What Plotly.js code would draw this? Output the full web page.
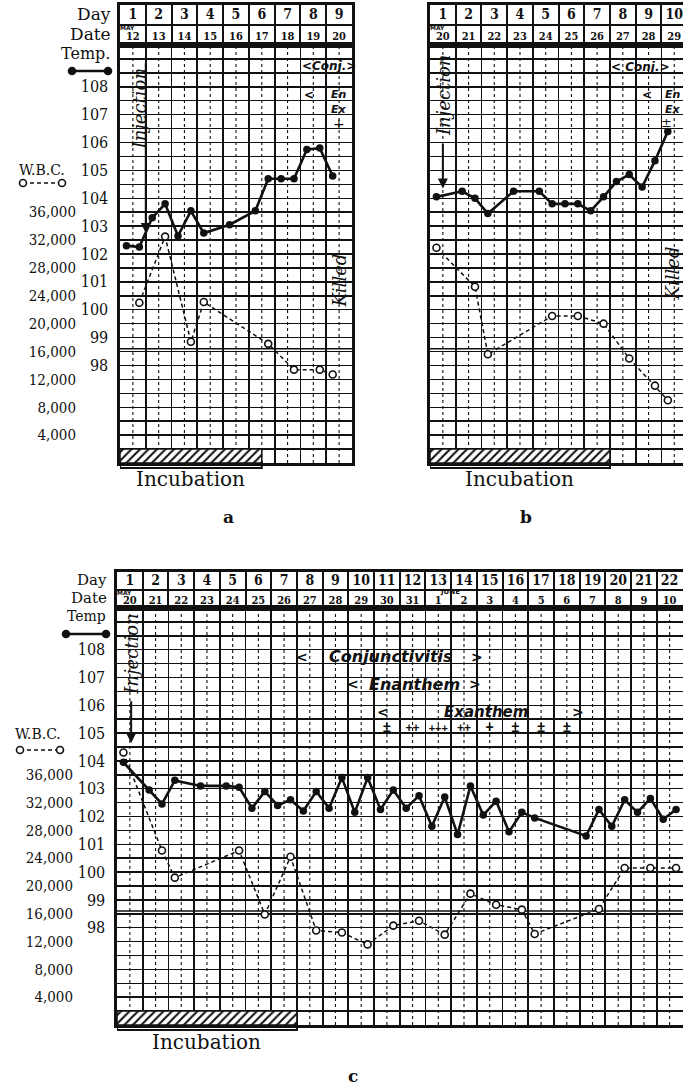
<!DOCTYPE html>
<html><head><meta charset="utf-8">
<script src="https://cdn.plot.ly/plotly-3.0.1.min.js"></script>
<style>html,body{margin:0;padding:0;background:#fff;}#chart{width:683px;height:1087px;}</style>
</head><body><div id="chart"></div>
<script>
// ---------------- DATA ----------------
// half-day reading slots: slot 0 = day 1 AM, slot 1 = day 1 PM, slot 2 = day 2 AM ...
const aDays = [1,2,3,4,5,6,7,8,9];
const aDates = ['12','13','14','15','16','17','18','19','20'];
const aTempSlots = [0,1,2,3,4,5,6,8,10,11,12,13,14,15,16];
const aTemp = [102.3,102.25,103.3,103.8,102.65,103.55,102.75,103.05,103.55,104.7,104.7,104.7,105.75,105.8,104.8];
const aWbcSlots = [1,3,5,6,11,13,15,16];
const aWbc = [23000,32500,17400,23100,17100,13400,13400,12700];
const aIncubation = [0.5, 6.0];

const bDays = [1,2,3,4,5,6,7,8,9,10];
const bDates = ['20','21','22','23','24','25','26','27','28','29'];
const bTempSlots = [0,2,3,4,6,8,9,10,11,12,13,14,15,16,17,18];
const bTemp = [104.05,104.25,104.0,103.45,104.25,104.25,103.8,103.8,103.8,103.55,104.05,104.6,104.85,104.4,105.35,106.4];
const bWbcSlots = [0,3,4,9,11,13,15,17,18];
const bWbc = [30900,25300,15600,21100,21100,20000,15000,11100,9000];
const bIncubation = [0.5, 7.5];

const cDays = [1,2,3,4,5,6,7,8,9,10,11,12,13,14,15,16,17,18,19,20,21,22];
const cDates = ['20','21','22','23','24','25','26','27','28','29','30','31','1','2','3','4','5','6','7','8','9','10'];
const cTempSlots = [0,2,3,4,6,8,9,10,11,12,13,14,15,16,17,18,19,20,21,22,23,24,25,26,27,28,29,30,31,32,36,37,38,39,40,41,42,43];
const cTemp = [103.95,102.95,102.45,103.3,103.1,103.1,103.05,102.3,102.9,102.4,102.6,102.2,102.9,102.3,103.4,102.15,103.4,102.25,102.95,102.3,102.75,101.65,102.7,101.35,103.1,102.05,102.55,101.45,102.15,101.95,101.3,102.25,101.65,102.6,102.15,102.65,101.9,102.25];
const cWbcSlots = [0,3,4,9,11,13,15,17,19,21,23,25,27,29,31,32,37,39,41,43];
const cWbc = [39200,25100,21200,25100,15900,24200,13600,13300,11600,14300,15000,13000,18900,17300,16600,13100,16700,22600,22600,22600];
const cIncubation = [0.5, 7.5];
const cSymbolDays = [11,12,13,14,15,16,17,18];
const cSymbols = ['±','++','+++','++','+','±','±','±'];

const tempTickVals = [98,99,100,101,102,103,104,105,106,107,108];
const wbcTickVals = [4000,8000,12000,16000,20000,24000,28000,32000,36000];
const wbcTickText = ['4,000','8,000','12,000','16,000','20,000','24,000','28,000','32,000','36,000'];

// ---------------- DRAWING ----------------
const W = 683, H = 1087, INK = '#111';
const SERIF = "'DejaVu Serif', serif";
const SERIFC = "'DejaVu Serif Condensed', 'DejaVu Serif', serif";
const SANS = "'DejaVu Sans', sans-serif";
const PX = x => x / W, PY = y => 1 - y / H;
const slotX = k => 0.75 + 0.5 * k;
const axKey = id => id[0] + 'axis' + id.slice(1);

const panels = [
  {days:aDays, dates:aDates, ts:aTempSlots, t:aTemp, ws:aWbcSlots, w:aWbc, inc:aIncubation,
   px:[120,352], main:[45,463], head:[5,45], xr:[0.5,9.5], labels:true, wbcPos:76, incY:479,
   ids:{x:'x', y:'y', w:'y2', hx:'x2', hy:'y3'}},
  {days:bDays, dates:bDates, ts:bTempSlots, t:bTemp, ws:bWbcSlots, w:bWbc, inc:bIncubation,
   px:[430,683], main:[45,463], head:[5,45], xr:[0.5,10.34], labels:false, wbcPos:76, incY:479,
   ids:{x:'x3', y:'y4', w:'y5', hx:'x4', hy:'y6'}},
  {days:cDays, dates:cDates, ts:cTempSlots, t:cTemp, ws:cWbcSlots, w:cWbc, inc:cIncubation,
   px:[117,683], main:[608,1025], head:[572,608], xr:[0.5,22.52], labels:true, wbcPos:73, incY:1042,
   ids:{x:'x5', y:'y7', w:'y8', hx:'x6', hy:'y9'}}
];

const layout = {width:W, height:H, margin:{l:0,r:0,t:0,b:0}, paper_bgcolor:'#fff', plot_bgcolor:'#fff',
  showlegend:false, shapes:[], annotations:[], font:{family:SERIF, color:INK}};
const traces = [];
function ann(o){ layout.annotations.push(Object.assign({showarrow:false, xanchor:'center', yanchor:'middle', font:{family:SERIF, size:14, color:INK}}, o)); }

const halfSteps = [];
for (let v = 94.5; v <= 109.5 + 1e-9; v += 0.5) halfSteps.push(+v.toFixed(1));

panels.forEach(p => {
  const id = p.ids;
  const xdom = [PX(p.px[0]), Math.min(1, PX(p.px[1]))];
  const bounds = []; for (let v = 0.5; v <= Math.ceil(p.xr[1]) + 0.5; v++) bounds.push(v);
  const common = {showline:true, mirror:true, linecolor:INK, linewidth:2.6, zeroline:false, fixedrange:true, ticks:''};
  layout[axKey(id.x)] = Object.assign({}, common, {domain:xdom, range:p.xr, anchor:id.y,
    tickmode:'array', tickvals:bounds, showticklabels:false, showgrid:true, gridcolor:INK, gridwidth:1.8});
  layout[axKey(id.y)] = Object.assign({}, common, {domain:[PY(p.main[1]), PY(p.main[0])], range:[94.5,109.5], anchor:id.x,
    tickmode:'array', tickvals:halfSteps, ticktext:halfSteps.map(v => tempTickVals.includes(v) ? String(v) : ''),
    showticklabels:p.labels, ticklabelstandoff:6, tickfont:{family:SERIFC, size:16, color:INK},
    showgrid:true, gridcolor:INK, gridwidth:1.5});
  layout[axKey(id.w)] = {overlaying:id.y, anchor:'free', position:PX(p.wbcPos), side:'left', range:[0,60000],
    tickmode:'array', tickvals:wbcTickVals, ticktext:wbcTickText, ticks:'', showgrid:false, showline:false,
    zeroline:false, fixedrange:true, visible:p.labels, tickfont:{family:SERIFC, size:15, color:INK}};
  layout[axKey(id.hx)] = Object.assign({}, common, {domain:xdom, range:p.xr, anchor:id.hy,
    tickmode:'array', tickvals:bounds, showticklabels:false, showgrid:true, gridcolor:INK, gridwidth:2});
  layout[axKey(id.hy)] = Object.assign({}, common, {domain:[PY(p.head[1]), PY(p.head[0])], range:[0,2], anchor:id.hx,
    tickmode:'array', tickvals:[0,1,2], showticklabels:false, showgrid:true, gridcolor:INK, gridwidth:2});

  // dotted mid-day lines (AM | PM divider)
  p.days.forEach(d => layout.shapes.push({type:'line', xref:id.x, yref:id.y, x0:d, x1:d, y0:94.5, y1:109.5,
    layer:'below', line:{color:INK, width:1.1, dash:'dot'}}));
  // normal line
  layout.shapes.push({type:'line', xref:id.x, yref:id.y, x0:p.xr[0], x1:p.xr[1], y0:98.6, y1:98.6, layer:'below', line:{color:INK, width:1.5}});

  // incubation hatched row
  traces.push({type:'bar', x:[(p.inc[0]+p.inc[1])/2], y:[0.5], base:[94.5], width:[p.inc[1]-p.inc[0]],
    xaxis:id.x, yaxis:id.y, hoverinfo:'skip',
    marker:{color:'#fff', line:{color:INK, width:1.5}, pattern:{shape:'/', fgcolor:INK, bgcolor:'#fff', size:6, solidity:0.35}}});
  // temperature
  traces.push({type:'scatter', mode:'lines+markers', x:p.ts.map(slotX), y:p.t, xaxis:id.x, yaxis:id.y,
    line:{color:INK, width:2.6}, marker:{size:7.5, color:INK}, hoverinfo:'skip'});
  // WBC
  traces.push({type:'scatter', mode:'lines+markers', x:p.ws.map(slotX), y:p.w, xaxis:id.x, yaxis:id.w,
    line:{color:INK, width:1.5, dash:'4px,3px'}, marker:{symbol:'circle', size:7, color:'#fff', line:{color:INK, width:1.6}},
    hoverinfo:'skip', cliponaxis:false});
  // header texts
  traces.push({type:'scatter', mode:'text', x:p.days, y:p.days.map(() => 1.5), text:p.days.map(String),
    xaxis:id.hx, yaxis:id.hy, textfont:{family:SERIFC, size:14, color:INK, weight:'bold'}, hoverinfo:'skip', cliponaxis:false});
  traces.push({type:'scatter', mode:'text', x:p.days, y:p.days.map(() => 0.38), text:p.dates,
    xaxis:id.hx, yaxis:id.hy, textfont:{family:SERIFC, size:11, color:INK, weight:'bold'}, hoverinfo:'skip', cliponaxis:false});
  ann({xref:id.hx, yref:id.hy, x:0.8, y:0.86, text:'MAY', font:{family:SANS, size:6, color:INK, weight:'bold'}});

  // incubation bracket
  const yb0 = PY(p.main[1]-2), yb1 = PY(p.main[1]+5);
  layout.shapes.push({type:'path', xref:id.x, yref:'paper',
    path:`M ${p.inc[0]},${yb0} L ${p.inc[0]},${yb1} L ${p.inc[1]},${yb1} L ${p.inc[1]},${yb0}`, line:{color:INK, width:2}});
  ann({xref:id.x, yref:'paper', x:(p.inc[0]+p.inc[1])/2, y:PY(p.incY), text:'Incubation', font:{family:SERIF, size:20, color:INK}});
});

// ---- left-side titles & legend keys ----
function legendKey(x0, x1, y, filled){
  layout.shapes.push({type:'line', xref:'paper', yref:'paper', x0:PX(x0), x1:PX(x1), y0:PY(y), y1:PY(y),
    line:{color:INK, width:filled ? 2.5 : 1.6, dash:filled ? 'solid' : '4px,3px'}});
  [x0, x1].forEach(cx => layout.shapes.push({type:'circle', xref:'paper', yref:'paper',
    x0:PX(cx-3.5), x1:PX(cx+3.5), y0:PY(y+3.5), y1:PY(y-3.5),
    fillcolor:filled ? INK : '#fff', line:{color:INK, width:1.6}}));
}
[[113,14,34,53,71,72,108,42,170,183,23,62,'Temp.',17],[109,580,598,616,634,66,106,38,734,750,20,60,'Temp',15]].forEach(s => {
  const [xr, yDay, yDate, yTemp, yTK, tk0, tk1, xw, yW, yWK, wk0, wk1, tTxt, fs] = s;
  ann({xref:'paper', yref:'paper', x:PX(xr), y:PY(yDay), xanchor:'right', text:'Day', font:{family:SERIF, size:fs, color:INK}});
  ann({xref:'paper', yref:'paper', x:PX(xr), y:PY(yDate), xanchor:'right', text:'Date', font:{family:SERIF, size:fs, color:INK}});
  ann({xref:'paper', yref:'paper', x:PX(xr-1), y:PY(yTemp), xanchor:'right', text:tTxt, font:{family:SERIF, size:fs-1, color:INK}});
  legendKey(tk0, tk1, yTK, true);
  ann({xref:'paper', yref:'paper', x:PX(xw), y:PY(yW), text:'W.B.C.', font:{family:SERIF, size:14, color:INK}});
  legendKey(wk0, wk1, yWK, false);
});

// ---- panel a notes ----
const IT = (size) => ({family:SERIF, size:size, color:INK, style:'italic'});
const BI = (size) => ({family:SANS, size:size, color:INK, style:'italic', weight:'bold'});
ann({xref:'x', yref:'y', x:1.25, y:107.2, text:'Injection', textangle:-90, font:IT(18)});
ann({xref:'x', yref:'y', x:1.5, y:102.75, ax:1.5, ay:108.9, axref:'x', ayref:'y', text:'', showarrow:true, arrowhead:2, arrowsize:1, arrowwidth:2, arrowcolor:INK});
ann({xref:'x', yref:'y', x:8.6, y:108.75, text:'&lt;Conj.&gt;', font:BI(12)});
ann({xref:'x', yref:'y', x:7.85, y:107.7, text:'&lt;', font:BI(12)});
ann({xref:'x', yref:'y', x:9.0, y:107.72, text:'En', font:BI(11)});
ann({xref:'x', yref:'y', x:9.0, y:107.2, text:'Ex', font:BI(11)});
ann({xref:'x', yref:'y', x:9.0, y:106.68, text:'+', font:{family:SERIF, size:14, color:INK}});
ann({xref:'x', yref:'y', x:9.0, y:101.05, text:'Killed', textangle:-90, font:IT(18)});

// ---- panel b notes ----
ann({xref:'x3', yref:'y4', x:1.0, y:107.7, text:'Injection', textangle:-90, font:IT(18)});
ann({xref:'x3', yref:'y4', x:1.0, y:104.35, ax:1.0, ay:106.0, axref:'x3', ayref:'y4', text:'', showarrow:true, arrowhead:2, arrowsize:1, arrowwidth:2, arrowcolor:INK});
ann({xref:'x3', yref:'y4', x:7.45, y:108.7, xanchor:'left', text:'&lt; Conj.&gt;', font:BI(12)});
ann({xref:'x3', yref:'y4', x:8.94, y:107.7, text:'&lt;', font:BI(12)});
ann({xref:'x3', yref:'y4', x:9.95, y:107.72, text:'En', font:BI(11)});
ann({xref:'x3', yref:'y4', x:9.95, y:107.2, text:'Ex', font:BI(11)});
ann({xref:'x3', yref:'y4', x:9.7, y:106.72, text:'±', font:{family:SERIF, size:13, color:INK}});
ann({xref:'x3', yref:'y4', x:9.95, y:101.3, text:'Killed', textangle:-90, font:IT(18)});

// ---- panel c notes ----
ann({xref:'x5', yref:'y7', x:1.08, y:107.85, text:'Injection', textangle:-90, font:IT(18)});
ann({xref:'x5', yref:'y7', x:1.05, y:104.64, ax:1.05, ay:106.2, axref:'x5', ayref:'y7', text:'', showarrow:true, arrowhead:2, arrowsize:1, arrowwidth:2, arrowcolor:INK});
ann({xref:'x6', yref:'y9', x:13.45, y:0.88, text:'JUNE', font:{family:SANS, size:7, color:INK, weight:'bold'}});
[[7.7,11.16,14.5,107.75,'Conjunctivitis',16],[9.68,12.06,14.43,106.75,'Enanthem',16],[10.85,14.86,18.44,105.75,'Exanthem',15]].forEach(r => {
  ann({xref:'x5', yref:'y7', x:r[0], y:r[3], text:'&lt;', font:BI(14)});
  ann({xref:'x5', yref:'y7', x:r[1], y:r[3], text:r[4], font:BI(r[5])});
  ann({xref:'x5', yref:'y7', x:r[2], y:r[3], text:'&gt;', font:BI(14)});
});
traces.push({type:'scatter', mode:'text', x:cSymbolDays, y:cSymbolDays.map(() => 105.15), text:cSymbols,
  xaxis:'x5', yaxis:'y7', hoverinfo:'skip', cliponaxis:false,
  textfont:{family:"'Liberation Sans', sans-serif", size:cSymbols.map(s => s.length > 2 ? 11 : (s.length > 1 ? 12 : 14)), color:INK, weight:'bold'}});

// ---- panel letters ----
ann({xref:'paper', yref:'paper', x:PX(228), y:PY(517), text:'a', font:{family:SERIF, size:17, color:INK, weight:'bold'}});
ann({xref:'paper', yref:'paper', x:PX(526), y:PY(517), text:'b', font:{family:SERIF, size:17, color:INK, weight:'bold'}});
ann({xref:'paper', yref:'paper', x:PX(353), y:PY(1076), text:'c', font:{family:SERIF, size:17, color:INK, weight:'bold'}});

Plotly.newPlot('chart', traces, layout, {displayModeBar:false, staticPlot:true});
</script>
</body></html>
